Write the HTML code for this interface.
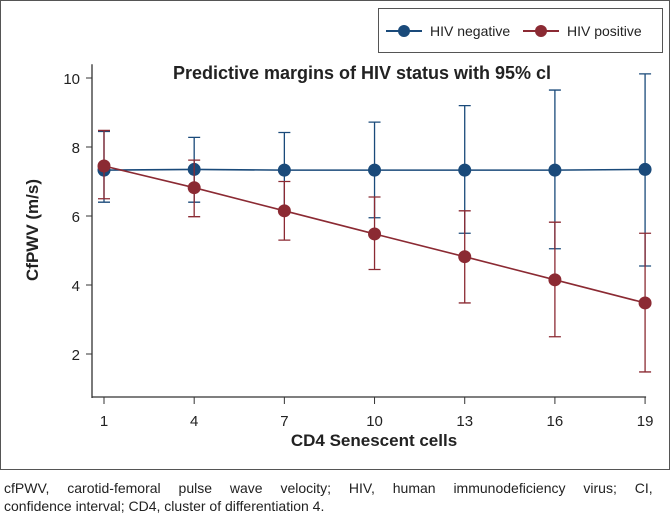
<!DOCTYPE html>
<html><head><meta charset="utf-8"><style>
body{margin:0;background:#fff;width:670px;height:518px;overflow:hidden;font-family:"Liberation Sans",sans-serif}
</style></head><body>
<svg id="c" width="670" height="518" xmlns="http://www.w3.org/2000/svg">
<rect x="0.5" y="0.5" width="669" height="469" fill="#fff" stroke="#555"/>
<g>
<rect x="378.5" y="8.5" width="284" height="44" fill="#fff" stroke="#555"/>
<line x1="386" y1="31" x2="422" y2="31" stroke="#1a4a7a" stroke-width="2"/>
<circle cx="404" cy="31" r="6" fill="#1a4a7a"/>
<text x="430" y="36" font-size="14" fill="#222">HIV negative</text>
<line x1="523" y1="31" x2="559" y2="31" stroke="#8b2a33" stroke-width="2"/>
<circle cx="541" cy="31" r="6" fill="#8b2a33"/>
<text x="567" y="36" font-size="14" fill="#222">HIV positive</text>
</g>
<text x="362" y="79" font-size="18" font-weight="bold" text-anchor="middle" fill="#222">Predictive margins of HIV status with 95% cl</text>
<text transform="translate(38,230) rotate(-90)" font-size="17" font-weight="bold" text-anchor="middle" fill="#222">CfPWV (m/s)</text>
<text x="374" y="446" font-size="17" font-weight="bold" text-anchor="middle" fill="#222">CD4 Senescent cells</text>
<g id="plot"></g>
<text x="4" y="493" font-size="14" fill="#222" word-spacing="14">cfPWV, carotid-femoral pulse wave velocity; HIV, human immunodeficiency virus; CI,</text>
<text x="4" y="511" font-size="14" fill="#222">confidence interval; CD4, cluster of differentiation 4.</text>
</svg>
<script>
const categories=[1,4,7,10,13,16,19];
const yTicks=[2,4,6,8,10];
const negMean=[7.33,7.35,7.33,7.33,7.33,7.33,7.35];
const negLow=[6.4,6.4,6.2,5.95,5.5,5.05,4.55];
const negHigh=[8.45,8.28,8.42,8.72,9.2,9.65,10.12];
const posMean=[7.45,6.82,6.15,5.48,4.82,4.15,3.48];
const posLow=[6.5,5.98,5.3,4.45,3.48,2.5,1.48];
const posHigh=[8.48,7.62,7.0,6.55,6.15,5.82,5.5];
const NS='http://www.w3.org/2000/svg';
const g=document.getElementById('plot');
const x=v=>104+(v-1)*30.06;
const y=v=>354-(v-2)*34.5;
function mk(t,a){const e=document.createElementNS(NS,t);for(const k in a)e.setAttribute(k,a[k]);g.appendChild(e);return e;}
let e;
e=mk('line',{x1:92,y1:y(10.4),x2:92,y2:398,stroke:'#333','stroke-width':1.3});


e=mk('line',{x1:92,y1:397,x2:x(19)+1,y2:397,stroke:'#333','stroke-width':1.3});


yTicks.forEach(t=>{
 mk('line',{x1:86,y1:y(t),x2:92,y2:y(t),stroke:'#333'});
 e=mk('text',{x:80,y:y(t)+6,'font-size':15,'text-anchor':'end',fill:'#222'});e.textContent=t;
 
 
});
categories.forEach(c=>{
 mk('line',{x1:x(c),y1:397,x2:x(c),y2:404,stroke:'#333'});
 e=mk('text',{x:x(c),y:426,'font-size':15,'text-anchor':'middle',fill:'#222'});e.textContent=c;
 
 
});
function series(mean,lo,hi,col,name){
 categories.forEach((c,i)=>{
  const X=x(c);
  e=mk('path',{d:`M${X},${y(lo[i])}V${y(hi[i])}M${X-6},${y(lo[i])}h12M${X-6},${y(hi[i])}h12`,stroke:col,'stroke-width':1.3,fill:'none'});
  
  
 });
 e=mk('polyline',{points:categories.map((c,i)=>x(c)+','+y(mean[i])).join(' '),stroke:col,'stroke-width':1.6,fill:'none'});
 
 
 categories.forEach((c,i)=>{
  e=mk('circle',{cx:x(c),cy:y(mean[i]),r:6.5,fill:col});
  
  
 });
}
series(negMean,negLow,negHigh,'#1a4a7a','hiv-negative');
series(posMean,posLow,posHigh,'#8b2a33','hiv-positive');
</script>
</body></html>
